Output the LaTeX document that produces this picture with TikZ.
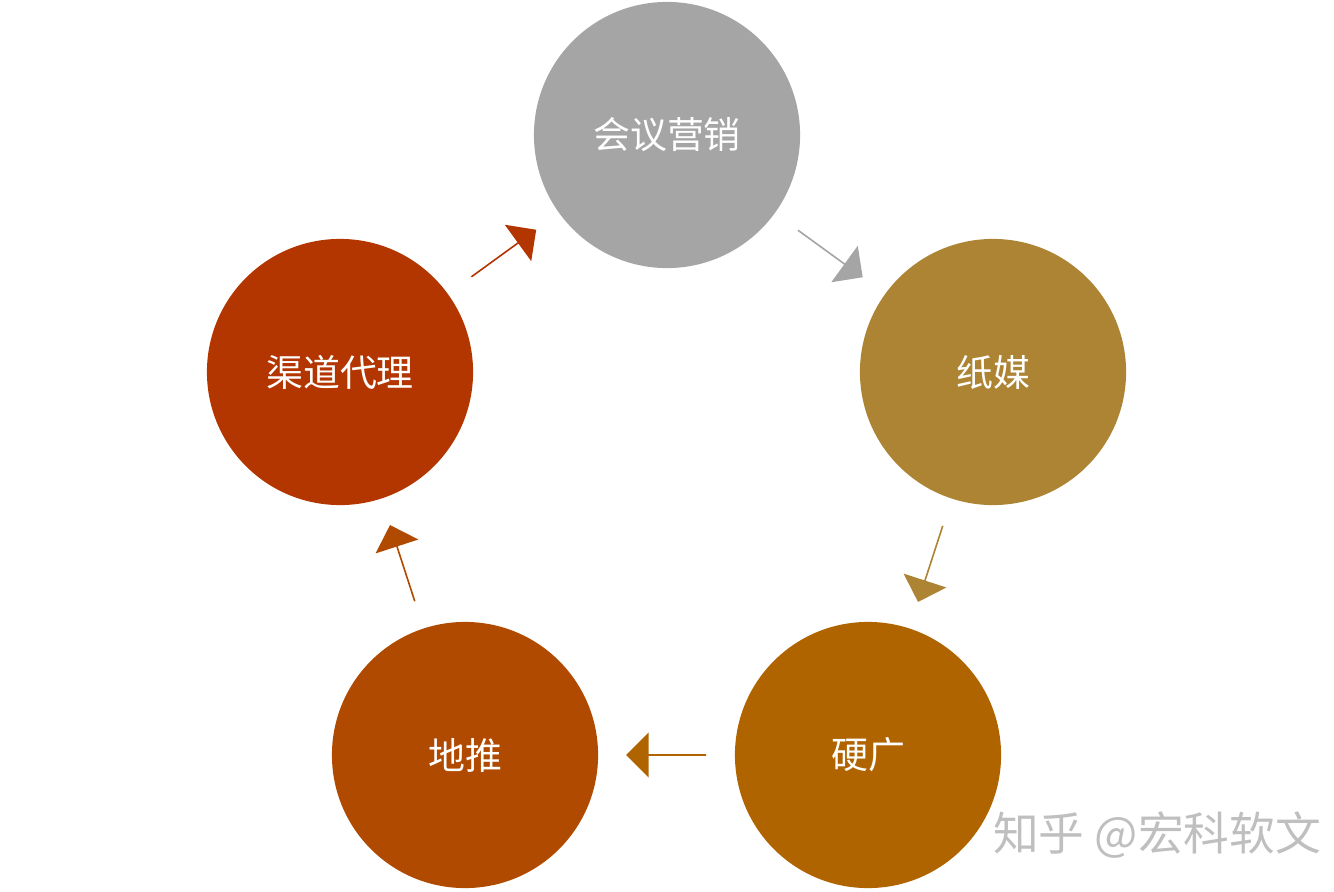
\documentclass[tikz,border=0pt]{standalone}
\usepackage{fontspec}
\newfontfamily\cjk{Noto Sans CJK SC}
\usetikzlibrary{calc,shapes.arrows,positioning}
\definecolor{cgray}{HTML}{A5A5A5}
\definecolor{cgold}{HTML}{AD8433}
\definecolor{corange}{HTML}{B06400}
\definecolor{crust}{HTML}{B04A00}
\definecolor{cred}{HTML}{B33500}
\tikzset{
  ball/.style={circle,minimum size=2.66cm,inner sep=0,text=white,font=\cjk\fontsize{10.5}{12}\selectfont},
  blockarrow/.style={single arrow,inner sep=0,minimum width=0.45cm,minimum height=0.8cm,single arrow head extend=0.19cm}
}
\begin{document}
\begin{tikzpicture}[x=0.01cm,y=-0.01cm]
		\useasboundingbox (0,0) rectangle (1334,891);
		\node[ball,fill=cgray] (meet) at (667,135) {会议营销};
		\node[ball,fill=cgold] (paper) at (993,372) {纸媒};
		\node[ball,fill=corange] (board) at (868,755) {硬广};
		\node[ball,fill=crust] (street) at (465,755) {地推};
		\node[ball,fill=cred] (agent) at (340,372) {渠道代理};
		\node[blockarrow,fill=cgray,rotate=-36] (a1) at ($(meet)!0.5!(paper)$) {};
		\node[blockarrow,fill=cgold,rotate=-108] (a2) at ($(paper)!0.5!(board)$) {};
		\node[blockarrow,fill=corange,rotate=180] (a3) at ($(board)!0.5!(street)$) {};
		\node[blockarrow,fill=crust,rotate=108] (a4) at ($(street)!0.5!(agent)$) {};
		\node[blockarrow,fill=cred,rotate=36] (a5) at ($(agent)!0.5!(meet)$) {};
		\node[text=black!25,font=\cjk\fontsize{13}{15}\selectfont] (mark) at (1157,835) {知乎 @宏科软文};
\end{tikzpicture}
\end{document}
